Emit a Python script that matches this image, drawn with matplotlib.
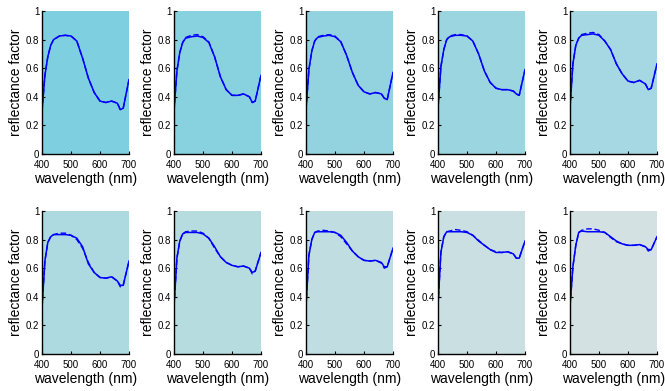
import matplotlib.pyplot as plt

plt.rcParams['font.family'] = ['Liberation Sans', 'DejaVu Sans']

wl = [400, 410, 420, 430, 440, 460, 480, 500, 520, 540, 560, 580, 600, 620, 640, 660, 670, 680, 700]

# measured (solid)
meas1 = [0.30, 0.55, 0.68, 0.76, 0.80, 0.825, 0.83, 0.825, 0.79, 0.67, 0.53, 0.43, 0.37, 0.36, 0.37, 0.355, 0.31, 0.32, 0.52]
meas2 = [0.30, 0.58, 0.71, 0.78, 0.81, 0.82, 0.825, 0.815, 0.78, 0.68, 0.54, 0.45, 0.41, 0.41, 0.42, 0.40, 0.36, 0.37, 0.55]
meas3 = [0.31, 0.59, 0.72, 0.79, 0.815, 0.825, 0.83, 0.82, 0.785, 0.69, 0.57, 0.48, 0.435, 0.42, 0.43, 0.42, 0.39, 0.38, 0.57]
meas4 = [0.32, 0.61, 0.73, 0.80, 0.82, 0.83, 0.83, 0.825, 0.79, 0.70, 0.58, 0.50, 0.46, 0.45, 0.45, 0.44, 0.42, 0.41, 0.59]
meas5 = [0.32, 0.63, 0.76, 0.81, 0.83, 0.835, 0.84, 0.83, 0.79, 0.73, 0.63, 0.56, 0.51, 0.50, 0.515, 0.49, 0.45, 0.46, 0.63]
meas6 = [0.32, 0.65, 0.78, 0.82, 0.835, 0.835, 0.835, 0.83, 0.81, 0.75, 0.63, 0.57, 0.535, 0.53, 0.54, 0.51, 0.48, 0.48, 0.65]
meas7 = [0.33, 0.67, 0.79, 0.84, 0.85, 0.85, 0.85, 0.84, 0.81, 0.75, 0.68, 0.64, 0.62, 0.61, 0.615, 0.60, 0.57, 0.58, 0.71]
meas8 = [0.33, 0.69, 0.80, 0.85, 0.855, 0.855, 0.855, 0.85, 0.83, 0.78, 0.72, 0.68, 0.655, 0.65, 0.655, 0.64, 0.61, 0.61, 0.74]
meas9 = [0.34, 0.71, 0.82, 0.855, 0.855, 0.855, 0.855, 0.85, 0.83, 0.79, 0.76, 0.73, 0.71, 0.71, 0.715, 0.70, 0.67, 0.67, 0.79]
meas10 = [0.33, 0.61, 0.76, 0.85, 0.86, 0.855, 0.855, 0.855, 0.85, 0.82, 0.79, 0.77, 0.76, 0.76, 0.765, 0.75, 0.73, 0.73, 0.82]

# estimated (dashed)
est1 = [0.30, 0.55, 0.68, 0.76, 0.80, 0.825, 0.83, 0.825, 0.79, 0.67, 0.53, 0.43, 0.37, 0.36, 0.37, 0.355, 0.31, 0.32, 0.52]
est2 = [0.30, 0.58, 0.71, 0.78, 0.815, 0.83, 0.835, 0.82, 0.785, 0.68, 0.54, 0.45, 0.41, 0.41, 0.42, 0.40, 0.36, 0.37, 0.55]
est3 = [0.31, 0.59, 0.72, 0.79, 0.82, 0.83, 0.835, 0.825, 0.785, 0.69, 0.57, 0.48, 0.435, 0.42, 0.43, 0.42, 0.39, 0.38, 0.57]
est4 = [0.32, 0.61, 0.73, 0.80, 0.825, 0.835, 0.835, 0.825, 0.79, 0.70, 0.58, 0.50, 0.46, 0.45, 0.45, 0.44, 0.42, 0.41, 0.59]
est5 = [0.32, 0.63, 0.76, 0.81, 0.835, 0.845, 0.85, 0.835, 0.79, 0.73, 0.63, 0.56, 0.51, 0.50, 0.515, 0.49, 0.45, 0.46, 0.63]
est6 = [0.32, 0.65, 0.78, 0.82, 0.835, 0.845, 0.845, 0.83, 0.80, 0.74, 0.64, 0.57, 0.535, 0.53, 0.54, 0.51, 0.47, 0.48, 0.65]
est7 = [0.33, 0.67, 0.79, 0.84, 0.855, 0.86, 0.86, 0.845, 0.81, 0.74, 0.68, 0.64, 0.62, 0.61, 0.615, 0.60, 0.56, 0.58, 0.71]
est8 = [0.33, 0.69, 0.80, 0.85, 0.86, 0.865, 0.86, 0.85, 0.82, 0.77, 0.72, 0.68, 0.655, 0.65, 0.655, 0.635, 0.60, 0.61, 0.74]
est9 = [0.34, 0.71, 0.82, 0.855, 0.86, 0.87, 0.865, 0.855, 0.83, 0.795, 0.76, 0.73, 0.715, 0.71, 0.715, 0.70, 0.67, 0.67, 0.79]
est10 = [0.33, 0.61, 0.76, 0.85, 0.865, 0.875, 0.875, 0.865, 0.85, 0.815, 0.785, 0.77, 0.76, 0.76, 0.765, 0.75, 0.72, 0.73, 0.82]

measured = [meas1, meas2, meas3, meas4, meas5, meas6, meas7, meas8, meas9, meas10]
estimated = [est1, est2, est3, est4, est5, est6, est7, est8, est9, est10]
bg_colors = ['#7ecfdf', '#88d1df', '#92d3df', '#9bd5e0', '#a5d8e2',
             '#acdae0', '#b6dce0', '#c0dee2', '#cadfe2', '#d3e1e2']

W, H = 665, 391
fig = plt.figure(figsize=(W / 100, H / 100), dpi=100)

lefts = [42, 174, 306, 438, 570]
bottoms = [154, 354]
aw, ah = 87, 143

for i in range(10):
    r, c = divmod(i, 5)
    ax = fig.add_axes([lefts[c] / W, 1 - bottoms[r] / H, aw / W, ah / H])
    ax.set_facecolor(bg_colors[i])
    ax.plot(wl, estimated[i], color='blue', lw=1.0, ls='--', dashes=(4, 2))
    ax.plot(wl, measured[i], color='blue', lw=1.1)
    ax.set_xlim(400, 700)
    ax.set_ylim(0, 1)
    ax.set_xticks([400, 500, 600, 700])
    ax.set_yticks([0, 0.2, 0.4, 0.6, 0.8, 1])
    ax.set_yticklabels(['0', '0.2', '0.4', '0.6', '0.8', '1'])
    for s in ['top', 'right']:
        ax.spines[s].set_visible(False)
    for s in ['left', 'bottom']:
        ax.spines[s].set_linewidth(1.0)
    ax.tick_params(direction='in', length=2, labelsize=7)
    ax.tick_params(axis='x', pad=4)
    ax.tick_params(axis='y', pad=2)
    ax.set_xlabel('wavelength (nm)', fontsize=10, labelpad=1.5)
    ax.set_ylabel('reflectance factor', fontsize=10, labelpad=2)

fig.savefig('out.png', dpi=100)
